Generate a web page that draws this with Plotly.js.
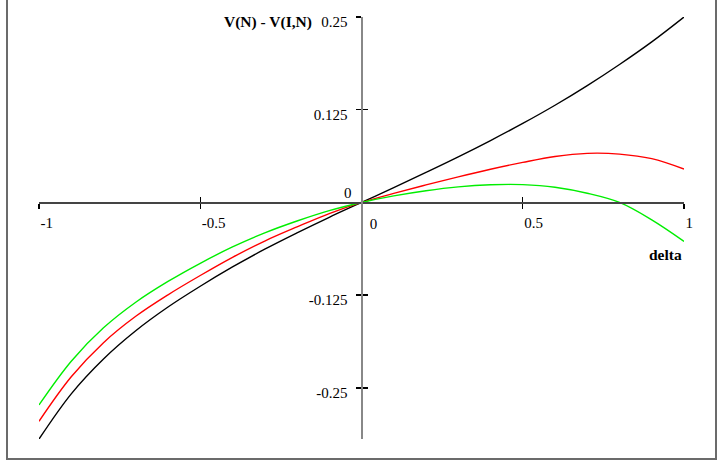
<!DOCTYPE html>
<html><head><meta charset="utf-8">
<script src="https://cdn.plot.ly/plotly-3.0.1.min.js"></script>
<style>
html,body{margin:0;padding:0;background:#fff;overflow:hidden;}
#wrap{position:relative;width:718px;height:466px;}
#chart{width:718px;height:466px;}
#frame{position:absolute;left:6px;top:-5px;width:711px;height:465px;border:2px solid #6b6b6b;border-top:none;box-sizing:border-box;pointer-events:none;}
</style>
</head><body>
<div id="wrap"><div id="chart"></div><div id="frame"></div></div>
<script>
// data
const delta = [-1,-0.9,-0.8,-0.7,-0.6,-0.5,-0.4,-0.3,-0.2,-0.1,0,0.1,0.2,0.3,0.4,0.5,0.6,0.7,0.8,0.9,1];
const blackVals = [-0.319,-0.258,-0.211,-0.173,-0.141,-0.113,-0.087,-0.063,-0.041,-0.020,0,0.020,0.0405,0.0615,0.0835,0.1065,0.131,0.1575,0.186,0.2165,0.250];
const redVals   = [-0.295,-0.235,-0.189,-0.1535,-0.1245,-0.0985,-0.074,-0.052,-0.033,-0.015,0,0.0122,0.0236,0.0345,0.0448,0.0540,0.0620,0.0662,0.0652,0.0590,0.045];
const greenVals = [-0.273,-0.214,-0.169,-0.1345,-0.1065,-0.082,-0.060,-0.041,-0.025,-0.011,0,0.0088,0.0158,0.0210,0.0238,0.0240,0.0205,0.0124,0.000,-0.0235,-0.0525];
const xTickVals = [-1,-0.5,0.5,1];
const xTickText = ['-1','-0.5','0.5','1'];
const yTickVals = [-0.25,-0.125,0.125,0.25];
const yTickText = ['-0.25','-0.125','0.125','0.25'];
const zeroTick = [0];
const zeroText = ['0'];
const xTitle = 'delta';
const yTitle = 'V(N) - V(I,N)';

const xRange = [-1, 1];
const yRange = [-0.3189, 0.25];
const xPos = (0 - yRange[0]) / (yRange[1] - yRange[0]);
const yPos = (0 - xRange[0]) / (xRange[1] - xRange[0]);
const font = 'Liberation Serif';

function line(y, color){
  return {x: delta, y: y, type:'scatter', mode:'lines', line:{color:color, width:1.4, shape:'spline', smoothing:1}, hoverinfo:'skip', showlegend:false};
}
const traces = [
  line(blackVals,'#000000'), line(redVals,'#ff0000'), line(greenVals,'#00ee00'),
  // invisible carriers so the overlay axes (crossing ticks, zero labels) are drawn
  Object.assign(line(blackVals,'#000000'), {xaxis:'x2', yaxis:'y2', opacity:0}),
  Object.assign(line(blackVals,'#000000'), {xaxis:'x3', yaxis:'y3', opacity:0})
];

const baseX = {range:xRange, anchor:'free', position:xPos, fixedrange:true, showgrid:false, zeroline:false, showline:false};
const baseY = {range:yRange, anchor:'free', position:yPos, fixedrange:true, showgrid:false, zeroline:false, showline:false};
const tf = {family:font, size:15, color:'#000'};

const layout = {
  width:718, height:466,
  margin:{l:39.3, r:34, t:17.3, b:26.6},
  paper_bgcolor:'#ffffff', plot_bgcolor:'rgba(0,0,0,0)',
  font:{family:font, size:15, color:'#000'},
  showlegend:false,
  xaxis: Object.assign({}, baseX, {
    showline:true, linecolor:'#444', linewidth:1.5,
    tickmode:'array', tickvals:xTickVals, ticktext:xTickText,
    ticks:'outside', ticklen:5, tickwidth:1.4, tickcolor:'#000',
    ticklabelposition:'outside right', ticklabelstandoff:6, tickfont:tf
  }),
  xaxis2: Object.assign({}, baseX, {
    overlaying:'x', tickmode:'array', tickvals:xTickVals,
    ticks:'inside', ticklen:5, tickwidth:1.4, tickcolor:'#000', showticklabels:false
  }),
  xaxis3: Object.assign({}, baseX, {
    overlaying:'x', tickmode:'array', tickvals:zeroTick, ticktext:zeroText, ticks:'',
    ticklabelshift:12, ticklabelstandoff:11, tickfont:tf
  }),
  yaxis: Object.assign({}, baseY, {
    showline:true, linecolor:'#888', linewidth:2,
    tickmode:'array', tickvals:yTickVals, ticktext:yTickText,
    ticks:'outside', ticklen:5, tickwidth:1.4, tickcolor:'#000',
    ticklabelshift:5, ticklabelstandoff:5, tickfont:tf
  }),
  yaxis2: Object.assign({}, baseY, {
    overlaying:'y', tickmode:'array', tickvals:yTickVals,
    ticks:'inside', ticklen:5, tickwidth:1.4, tickcolor:'#000', showticklabels:false
  }),
  yaxis3: Object.assign({}, baseY, {
    overlaying:'y', tickmode:'array', tickvals:zeroTick, ticktext:zeroText, ticks:'',
    ticklabelshift:-10, ticklabelstandoff:10, tickfont:tf
  }),
  annotations:[
    {text:'<b>'+yTitle+'</b>', xref:'x', yref:'y', x:-0.148, y:0.2435, xanchor:'right', yanchor:'middle', showarrow:false, font:{family:font, size:15.5, color:'#000'}},
    {text:'<b>'+xTitle+'</b>', xref:'x', yref:'y', x:1.0, y:-0.0705, xanchor:'right', yanchor:'middle', showarrow:false, font:{family:font, size:15.5, color:'#000'}}
  ]
};

Plotly.newPlot('chart', traces, layout, {staticPlot:true, displayModeBar:false});
</script>
</body></html>
